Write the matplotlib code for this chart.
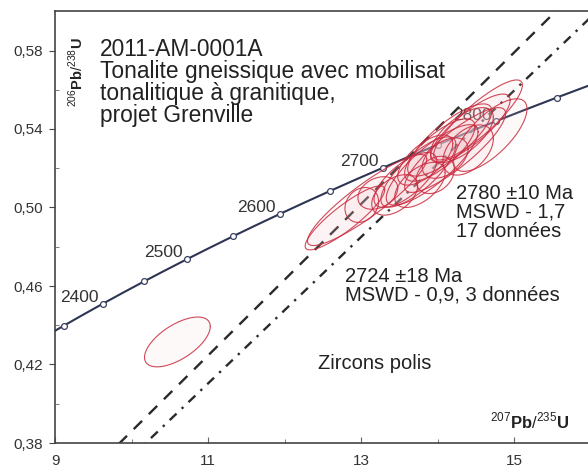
import numpy as np
import matplotlib
matplotlib.use("Agg")
import matplotlib.pyplot as plt
from matplotlib.ticker import FixedLocator, FuncFormatter

plt.rcParams['font.family'] = ['Liberation Sans', 'DejaVu Sans']
plt.rcParams['mathtext.fontset'] = 'custom'
plt.rcParams['mathtext.rm'] = 'Liberation Sans'
plt.rcParams['mathtext.bf'] = 'Liberation Sans:bold'

# decay constants (1/yr)
lam238 = 1.55125e-10
lam235 = 9.8485e-10

# concordia age marks (Ma) and labelled ages
tick_ages = [2350, 2400, 2450, 2500, 2550, 2600, 2650, 2700, 2750, 2800, 2850, 2900]
label_ages = [2400, 2500, 2600, 2700, 2800]

# discordia upper intercepts (Ma), lower intercept at 0 Ma
upper_dashed = 2724
upper_dashdot = 2780

# analyses: 207Pb/235U, 206Pb/238U, 2s errors, error correlation
ell_x = [12.79, 13.08, 13.01, 13.22, 13.44, 13.58, 13.75, 13.84, 13.93, 14.03,
         14.10, 14.16, 14.23, 14.32, 14.43, 14.53, 14.69, 13.97, 13.77, 14.40, 10.60]
ell_y = [0.4947, 0.5038, 0.5013, 0.5074, 0.5064, 0.5140, 0.5181, 0.5242, 0.5217, 0.5293,
         0.5252, 0.5344, 0.5293, 0.5369, 0.5405, 0.5446, 0.5369, 0.5166, 0.5115, 0.5293, 0.4315]
ell_ex = [0.52, 0.78, 0.22, 0.26, 0.30, 0.41, 0.49, 0.36, 0.60, 0.46,
          0.30, 0.55, 0.66, 0.41, 0.52, 0.58, 0.48, 0.25, 0.33, 0.33, 0.43]
ell_ey = [0.0163, 0.0232, 0.0089, 0.0083, 0.0103, 0.0140, 0.0179, 0.0128, 0.0205, 0.0159,
          0.0103, 0.0184, 0.0216, 0.0140, 0.0173, 0.0204, 0.0185, 0.0095, 0.0115, 0.0128, 0.0127]
ell_rho = [0.88, 0.9, 0.2, 0.3, 0.45, 0.7, 0.78, 0.65, 0.82, 0.75,
           0.45, 0.8, 0.86, 0.65, 0.82, 0.87, 0.72, 0.3, 0.55, 0.45, 0.62]


def concordia(t_ma):
    t = np.asarray(t_ma) * 1e6
    return np.exp(lam235 * t) - 1, np.exp(lam238 * t) - 1


fig = plt.figure(figsize=(5.88, 4.73), dpi=100)
ax = fig.add_axes([55 / 588, 30 / 473, 535.5 / 588, 431.75 / 473])
ax.set_xlim(9, 16)
ax.set_ylim(0.38, 0.60)

# discordia lines through the origin
for age, ls in [(upper_dashed, (0, (5, 4))), (upper_dashdot, (0, (4, 3, 1, 3)))]:
    ux, uy = concordia(age)
    xs = np.array([0, 17])
    ax.plot(xs, xs * uy / ux, color='#2a2a2a', lw=1.7, ls=ls, zorder=2)

# concordia curve
t = np.linspace(2250, 3000, 300)
cx, cy = concordia(t)
ax.plot(cx, cy, color='#2e3552', lw=1.5, zorder=3)
mx, my = concordia(tick_ages)
ax.plot(mx, my, 'o', ms=4.2, mfc='white', mec='#3a4060', mew=0.9, zorder=4)
for a in label_ages:
    px, py = concordia(a)
    ax.annotate(str(a), (px, py), xytext=(-3, -1), textcoords='offset points',
                ha='right', va='bottom', fontsize=12.5, color='#333333', zorder=3)

# error ellipses
th = np.linspace(0, 2 * np.pi, 200)
for x0, y0, ex, ey, r in zip(ell_x, ell_y, ell_ex, ell_ey, ell_rho):
    u = np.cos(th)
    v = r * np.cos(th) + np.sqrt(1 - r ** 2) * np.sin(th)
    ax.fill(x0 + ex * u, y0 + ey * v, facecolor='#f6c6cc', alpha=0.1, edgecolor='none', zorder=5)
    ax.plot(x0 + ex * u, y0 + ey * v, color='#c92a3e', lw=0.8, alpha=0.85, zorder=6)

# annotations
ax.text(0.084, 0.937, "2011-AM-0001A\nTonalite gneissique avec mobilisat\ntonalitique à granitique,\nprojet Grenville",
        transform=ax.transAxes, ha='left', va='top', fontsize=16.4, linespacing=0.93, color='#222222')
ax.text(0.749, 0.600, "2780 ±10 Ma\nMSWD - 1,7\n17 données", transform=ax.transAxes,
        ha='left', va='top', fontsize=14.5, linespacing=1.0, color='#222222', zorder=7)
ax.text(0.5415, 0.408, "2724 ±18 Ma\nMSWD - 0,9, 3 données", transform=ax.transAxes,
        ha='left', va='top', fontsize=14.5, linespacing=1.0, color='#222222', zorder=7)
ax.text(0.491, 0.206, "Zircons polis", transform=ax.transAxes,
        ha='left', va='top', fontsize=14.5, color='#222222')
ax.text(0.887, 0.051, r'$^{207}\mathbf{Pb}/^{235}\mathbf{U}$', transform=ax.transAxes,
        ha='center', va='center', fontsize=12, color='#222222')
ax.text(0.039, 0.859, r'$^{206}\mathbf{Pb}/^{238}\mathbf{U}$', transform=ax.transAxes,
        ha='center', va='center', fontsize=10.5, rotation=90, color='#222222')

# axes styling
for s in ['left', 'bottom', 'top']:
    ax.spines[s].set_color('#444444')
    ax.spines[s].set_linewidth(1.2)
ax.spines['right'].set_visible(False)
ax.xaxis.set_major_locator(FixedLocator([9, 11, 13, 15]))
ax.xaxis.set_minor_locator(FixedLocator([10, 12, 14]))
ax.yaxis.set_major_locator(FixedLocator([0.38, 0.42, 0.46, 0.50, 0.54, 0.58]))
ax.yaxis.set_minor_locator(FixedLocator([0.40, 0.44, 0.48, 0.52, 0.56]))
ax.yaxis.set_major_formatter(FuncFormatter(lambda v, p: f"{v:.2f}".replace('.', ',')))
ax.tick_params(axis='y', which='major', direction='out', length=4, color='#444444',
               labelsize=11, labelcolor='#333333', pad=5)
ax.tick_params(axis='y', which='minor', direction='in', length=3, color='#666666')
ax.tick_params(axis='x', which='major', direction='in', length=4, color='#666666',
               labelsize=11, labelcolor='#333333', pad=8)
ax.tick_params(axis='x', which='minor', direction='in', length=3, color='#666666')

fig.savefig('out.png', dpi=100)
